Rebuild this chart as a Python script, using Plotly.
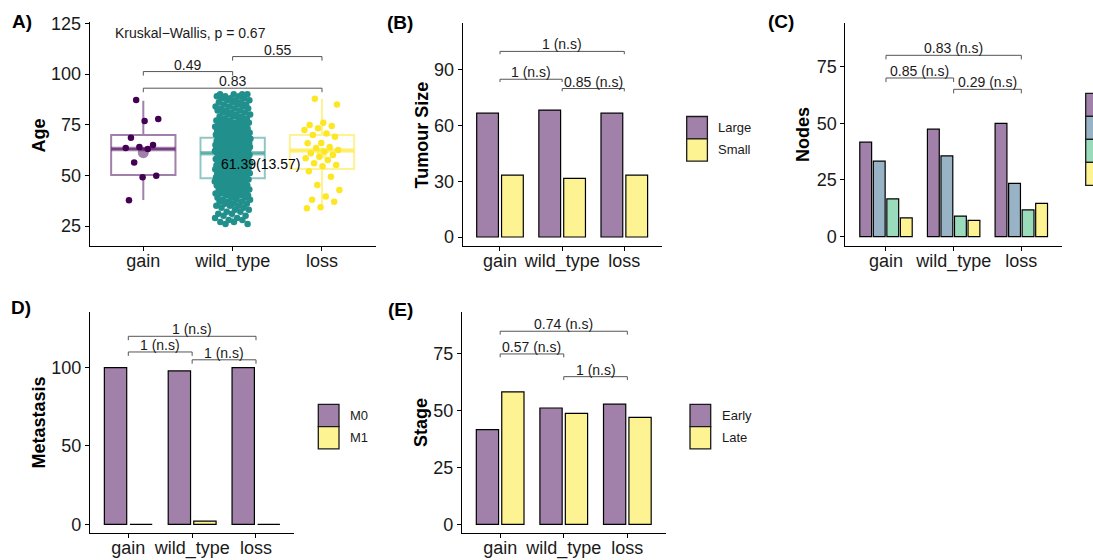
import plotly.graph_objects as go

W, H = 1093, 560

groups = ["gain", "wild_type", "loss"]
group_pos = [1, 2, 3]

# ---------------- Panel A: Age ----------------
gain_age = [87.2, 77.8, 76.8, 68.6, 65.0, 64.0, 63.5, 63.0, 56.3, 49.8, 49.0, 37.7]
loss_age = [87.8, 85.0, 76.0, 74.8, 74.3, 73.2, 72.4, 70.7, 69.9, 69.0, 66.0, 65.8,
            64.0, 63.5, 62.5, 61.7, 60.9, 60.0, 59.2, 58.4, 57.6, 56.0, 55.1, 54.5,
            52.0, 49.3, 45.2, 42.8, 39.5, 38.0, 37.0, 34.2, 33.7]
wild_age = [
    26, 26, 27, 27, 28, 28, 29, 29, 30, 30, 31, 31, 32, 32, 33, 33, 34, 34, 35, 35,
    35, 36, 36, 36, 37, 37, 37, 38, 38, 38, 39, 39, 39, 40, 40, 40, 40, 41, 41, 41,
    41, 42, 42, 42, 42, 43, 43, 43, 43, 44, 44, 44, 44, 45, 45, 45, 45, 46, 46, 46,
    46, 47, 47, 47, 47, 48, 48, 48, 48, 48,
    49, 49, 49, 49, 49, 49, 50, 50, 50, 50, 50, 50, 51, 51, 51, 51, 51, 51, 52, 52,
    52, 52, 52, 52, 53, 53, 53, 53, 53, 53, 54, 54, 54, 54, 54, 54, 55, 55, 55, 55,
    55, 55, 56, 56, 56, 56, 56, 56, 57, 57, 57, 57, 57, 57, 58, 58, 58, 58, 58, 58,
    59, 59, 59, 59, 59, 60, 60, 60, 60, 60,
    61, 61, 61, 61, 61, 61, 61, 61, 61, 62, 62, 62, 62, 62, 62, 62, 62, 62, 63, 63,
    63, 63, 63, 63, 63, 63, 63, 64, 64, 64, 64, 64, 64, 64, 64, 64, 65, 65, 65, 65,
    65, 65, 65, 65, 65, 66, 66, 66, 66, 66, 66, 66, 66, 66, 67, 67, 67, 67, 67, 67,
    67, 67, 68, 68, 68, 68, 68, 68, 68, 68,
    69, 69, 69, 69, 69, 69, 70, 70, 70, 70, 70, 70, 71, 71, 71, 71, 71, 72, 72, 72,
    72, 72, 73, 73, 73, 73, 73, 74, 74, 74, 74, 75, 75, 75, 75, 76, 76, 76, 76, 77,
    77, 77, 77, 78, 78, 78, 79, 79, 79, 80, 80, 80, 81, 81, 81, 82, 82, 82, 83, 83,
    83, 84, 84, 84, 85, 85, 85, 86, 86, 86, 87, 87, 87, 88, 88, 88, 89, 89, 89, 90,
    90, 90, 90,
]
box_q1 = [50.2, 48.5, 53.1]
box_median = [63.0, 60.9, 62.2]
box_q3 = [69.9, 68.6, 69.9]
box_lower = [37.8, 26.0, 33.7]
box_upper = [86.8, 90.0, 87.7]
group_mean = [61.2, 61.39, 61.0]
mean_sd_label = "61.39(13.57)"
kw_label = "Kruskal\u2212Wallis, p = 0.67"
age_brackets = [(1, 2, 101.2, "0.49"), (2, 3, 108.6, "0.55"), (1, 3, 93.0, "0.83")]

# ---------------- Panel B: Tumour Size ----------------
size_labels = ["Large", "Small"]
size_large = [66.7, 68.4, 66.7]
size_small = [33.3, 31.6, 33.3]
size_brackets = [(1, 3, 100, "1 (n.s)"), (1, 2, 85, "1 (n.s)"), (2, 3, 80, "0.85 (n.s)")]

# ---------------- Panel C: Nodes ----------------
node_labels = ["N0", "N1", "N2", "N3"]
nodes_n0 = [41.7, 47.4, 50.0]
nodes_n1 = [33.3, 35.6, 23.5]
nodes_n2 = [16.7, 9.1, 11.8]
nodes_n3 = [8.3, 7.2, 14.7]
node_brackets = [(1, 3, 80, "0.83 (n.s)"), (1, 2, 70, "0.85 (n.s)"), (2, 3, 65, "0.29 (n.s)")]

# ---------------- Panel D: Metastasis ----------------
met_labels = ["M0", "M1"]
met_m0 = [100.0, 97.9, 100.0]
met_m1 = [0.0, 2.1, 0.0]
met_brackets = [(1, 3, 120, "1 (n.s)"), (1, 2, 110, "1 (n.s)"), (2, 3, 105, "1 (n.s)")]

# ---------------- Panel E: Stage ----------------
stage_labels = ["Early", "Late"]
stage_early = [41.7, 51.2, 52.9]
stage_late = [58.3, 48.8, 47.1]
stage_brackets = [(1, 3, 85, "0.74 (n.s)"), (1, 2, 75, "0.57 (n.s)"), (2, 3, 65, "1 (n.s)")]

# ---------------- styling ----------------
FONT = "Liberation Sans, Arial, sans-serif"
TXT = "#1a1a1a"
viridis3 = ["#440154", "#21908C", "#FDE725"]
box_line_colors = ["rgba(68,1,84,0.5)", "rgba(33,144,140,0.5)", "rgba(253,231,37,0.5)"]
fill2 = ["#A180A9", "#FEF392"]
fill4 = ["#A180A9", "#98B3C6", "#9ADBBC", "#FEF392"]


def px_x(p):
    return p / W


def px_y(p):
    return 1 - p / H


# panel geometry: x pixel extent, y pixel extent, y range, y ticks, tip (data units)
panels = [
    dict(xd=(89.7, 375.6), yd=(22, 246), yr=(15.13, 125.66), yt=[25, 50, 75, 100, 125], tip=2.0),
    dict(xd=(462.7, 661.6), yd=(23, 246), yr=(-4.85, 115.3), yt=[0, 30, 60, 90], tip=1.5),
    dict(xd=(845.4, 1061.9), yd=(23, 246), yr=(-4.12, 94.26), yt=[0, 25, 50, 75], tip=1.8),
    dict(xd=(90.0, 294.3), yd=(311.7, 533.3), yr=(-5.73, 135.7), yt=[0, 50, 100], tip=2.5),
    dict(xd=(462.0, 665.5), yd=(311.7, 533.3), yr=(-3.95, 93.6), yt=[0, 25, 50, 75], tip=1.5),
]

fig = go.Figure()
layout = dict(
    template="none",
    width=W, height=H, margin=dict(l=0, r=0, t=0, b=0, pad=0),
    paper_bgcolor="white", plot_bgcolor="white",
    barmode="group", bargap=0.2, bargroupgap=0.125,
    showlegend=False, font=dict(family=FONT, color=TXT),
)
for i, p in enumerate(panels, start=1):
    sfx = "" if i == 1 else str(i)
    common = dict(
        showline=True, linecolor="black", linewidth=1.2,
        ticks="outside", ticklen=4, tickwidth=1.2, tickcolor="black", showgrid=False,
        zeroline=False, tickfont=dict(size=18, color=TXT, family=FONT),
        fixedrange=True, automargin=False,
    )
    layout["xaxis" + sfx] = dict(
        domain=[px_x(p["xd"][0]), px_x(p["xd"][1])], range=[0.4, 3.6],
        tickvals=group_pos, ticktext=groups, anchor="y" + sfx,
        ticklabelstandoff=-6, **common,
    )
    layout["yaxis" + sfx] = dict(
        domain=[px_y(p["yd"][1]), px_y(p["yd"][0])], range=list(p["yr"]),
        tickvals=p["yt"], anchor="x" + sfx, **common,
    )
fig.update_layout(**layout)

shapes = []
annotations = []


def add_brackets(brackets, axis_idx, tip):
    sfx = "" if axis_idx == 1 else str(axis_idx)
    for x1, x2, y, label in brackets:
        shapes.append(dict(
            type="path", xref="x" + sfx, yref="y" + sfx,
            path=f"M {x1},{y - tip} L {x1},{y} L {x2},{y} L {x2},{y - tip}",
            line=dict(color="#555555", width=1),
        ))
        annotations.append(dict(
            x=(x1 + x2) / 2, y=y, xref="x" + sfx, yref="y" + sfx, text=label,
            showarrow=False, yanchor="bottom", yshift=-3,
            font=dict(size=14, color=TXT, family=FONT),
        ))


def jitter(n, width=0.4, phase=0.3):
    return [((k * 0.6180339887 + phase) % 1 - 0.5) * width for k in range(n)]


# ----- Panel A -----
for g in range(3):
    fig.add_trace(go.Box(
        x=[group_pos[g]], q1=[box_q1[g]], median=[box_median[g]], q3=[box_q3[g]],
        lowerfence=[box_lower[g]], upperfence=[box_upper[g]], width=0.72,
        whiskerwidth=0, fillcolor="rgba(255,255,255,0)",
        line=dict(color=box_line_colors[g], width=2), boxpoints=False,
        xaxis="x", yaxis="y", hoverinfo="skip",
    ))
    fig.add_trace(go.Scatter(
        x=[group_pos[g] - 0.36, group_pos[g] + 0.36], y=[box_median[g], box_median[g]],
        mode="lines", line=dict(color=box_line_colors[g], width=4.5),
        xaxis="x", yaxis="y", hoverinfo="skip",
    ))
    fig.add_trace(go.Scatter(
        x=[group_pos[g]], y=[group_mean[g]], mode="markers",
        marker=dict(size=11, color=box_line_colors[g]),
        xaxis="x", yaxis="y", hoverinfo="skip",
    ))

for g, vals in enumerate([gain_age, wild_age, loss_age]):
    jx = jitter(len(vals))
    fig.add_trace(go.Scatter(
        x=[group_pos[g] + d for d in jx], y=vals, mode="markers",
        marker=dict(size=6.5, color=viridis3[g]),
        xaxis="x", yaxis="y", hoverinfo="skip",
    ))

annotations.append(dict(
    x=2.31, y=55.6, xref="x", yref="y", text=mean_sd_label, showarrow=False,
    font=dict(size=14, color="black", family=FONT),
))
annotations.append(dict(
    x=1.53, y=120.1, xref="x", yref="y", text=kw_label, showarrow=False,
    font=dict(size=14, color=TXT, family=FONT),
))
add_brackets(age_brackets, 1, panels[0]["tip"])


# ----- bar panels -----
def add_bars(series, labels, colors, axis_idx):
    sfx = "" if axis_idx == 1 else str(axis_idx)
    for vals, lab, col in zip(series, labels, colors):
        fig.add_trace(go.Bar(
            x=group_pos, y=vals, name=lab,
            marker=dict(color=col, line=dict(color="black", width=1.2)),
            xaxis="x" + sfx, yaxis="y" + sfx, hoverinfo="skip",
        ))


add_bars([size_large, size_small], size_labels, fill2, 2)
add_brackets(size_brackets, 2, panels[1]["tip"])
add_bars([nodes_n0, nodes_n1, nodes_n2, nodes_n3], node_labels, fill4, 3)
add_brackets(node_brackets, 3, panels[2]["tip"])
add_bars([met_m0, met_m1], met_labels, fill2, 4)
add_brackets(met_brackets, 4, panels[3]["tip"])
add_bars([stage_early, stage_late], stage_labels, fill2, 5)
add_brackets(stage_brackets, 5, panels[4]["tip"])


# ----- legends drawn as keys + labels -----
def add_legend(labels, colors, x0, y0, kw=20.7, kh=22.3, show_text=True):
    for k, (lab, col) in enumerate(zip(labels, colors)):
        top = y0 + k * kh
        shapes.append(dict(
            type="rect", xref="paper", yref="paper",
            x0=px_x(x0), x1=px_x(x0 + kw), y0=px_y(top + kh), y1=px_y(top),
            fillcolor=col, line=dict(color="#1a1a1a", width=1.3),
        ))
        if show_text:
            annotations.append(dict(
                x=px_x(x0 + kw + 9), y=px_y(top + kh / 2), xref="paper", yref="paper",
                text=lab, showarrow=False, xanchor="left", yanchor="middle",
                font=dict(size=13, color=TXT, family=FONT),
            ))


add_legend(size_labels, fill2, 686.7, 116.5)
add_legend(node_labels, fill4, 1085.7, 93.3, kh=23.0, show_text=False)
add_legend(met_labels, fill2, 318.3, 404.3)
add_legend(stage_labels, fill2, 690.0, 404.3)

# ----- axis titles -----
for text, cx, cy in [("Age", 38.5, 136), ("Tumour Size", 421.5, 135), ("Nodes", 803, 135),
                     ("Metastasis", 38.5, 423), ("Stage", 420.5, 422.5)]:
    annotations.append(dict(
        x=px_x(cx), y=px_y(cy), xref="paper", yref="paper", text=f"<b>{text}</b>",
        textangle=-90, showarrow=False, xanchor="center", yanchor="middle",
        font=dict(size=18, color="black", family=FONT),
    ))

# ----- panel labels -----
for text, cx, cy in [("A)", 22, 22), ("(B)", 400, 23), ("(C)", 781, 22),
                     ("D)", 21, 307), ("(E)", 400, 309)]:
    annotations.append(dict(
        x=px_x(cx), y=px_y(cy), xref="paper", yref="paper", text=f"<b>{text}</b>",
        showarrow=False, xanchor="center", yanchor="middle",
        font=dict(size=19, color="black", family=FONT),
    ))

fig.update_layout(shapes=shapes, annotations=annotations)
fig.write_html("out.html")
